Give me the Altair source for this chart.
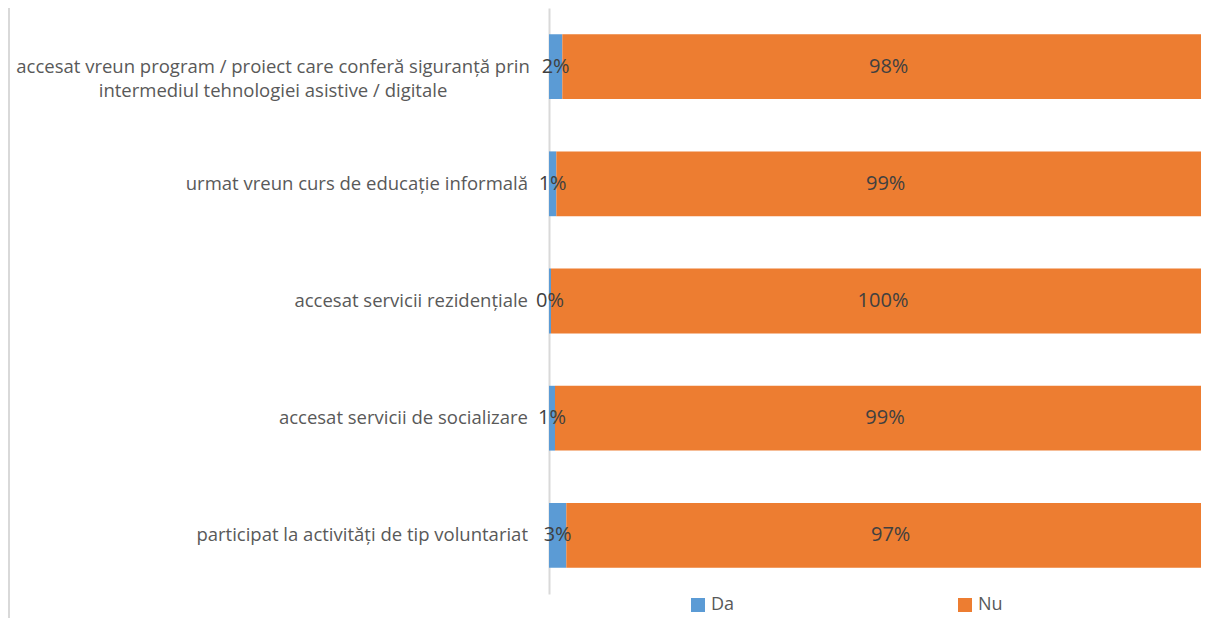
import altair as alt
import pandas as pd

categories = [
    "accesat vreun program / proiect care conferă siguranță prin intermediul tehnologiei asistive / digitale",
    "urmat vreun curs de educație informală",
    "accesat servicii rezidențiale",
    "accesat servicii de socializare",
    "participat la activități de tip voluntariat",
]
label_text = [
    "accesat vreun program / proiect care conferă siguranță prin\nintermediul tehnologiei asistive / digitale",
    "urmat vreun curs de educație informală",
    "accesat servicii rezidențiale",
    "accesat servicii de socializare",
    "participat la activități de tip voluntariat",
]
wrapped = [True, False, False, False, False]
series = ["Da", "Nu"]
da_values = [2.0, 1.1, 0.3, 0.9, 2.6]
nu_values = [98.0, 98.9, 99.7, 99.1, 97.4]
colors = ["#5B9BD5", "#ED7D31"]

rows = []
for i, c in enumerate(categories):
    rows.append({"cat": c, "series": series[0], "order": 0, "value": da_values[i]})
    rows.append({"cat": c, "series": series[1], "order": 1, "value": nu_values[i]})
df = pd.DataFrame(rows)
lab_df = pd.DataFrame({"cat": categories, "label": label_text, "wrap": wrapped})

y_scale = alt.Scale(paddingInner=0.447, paddingOuter=0.2235)
y_axis = alt.Axis(labels=False, ticks=False, title=None, domainColor="#d9d9d9",
                  domainWidth=2, grid=False)

base = alt.Chart(df).transform_stack(
    stack="value", groupby=["cat"], as_=["x0", "x1"],
    sort=[alt.SortField("order", order="ascending")]
).transform_calculate(
    mid="(datum.x0 + datum.x1) / 2",
    lbl="format(datum.value / 100, '.0%')"
)

bars = base.mark_bar(clip=True).encode(
    x=alt.X("x0:Q", scale=alt.Scale(domain=[0, 97.9], nice=False, zero=True), axis=None),
    x2="x1:Q",
    y=alt.Y("cat:N", sort=categories, scale=y_scale, axis=y_axis),
    color=alt.Color("series:N", scale=alt.Scale(domain=series, range=colors),
                    legend=alt.Legend(orient="none", legendX=140, legendY=588,
                                      direction="horizontal", title=None,
                                      symbolType="square", symbolSize=196,
                                      symbolStrokeWidth=0, labelFontSize=18,
                                      labelFont="Open Sans", labelColor="#595959",
                                      columnPadding=221, labelOffset=4, padding=0)),
)

values_text = base.mark_text(fontSize=20, font="Open Sans", color="#404040").encode(
    x=alt.X("mid:Q"),
    y=alt.Y("cat:N", sort=categories),
    text="lbl:N",
)

cat_right = alt.Chart(lab_df).transform_filter("!datum.wrap").mark_text(
    align="right", baseline="middle", fontSize=18.5, font="Open Sans", color="#595959"
).encode(x=alt.value(-21), y=alt.Y("cat:N", sort=categories), text="label:N")

cat_wrap = alt.Chart(lab_df).transform_filter("datum.wrap").mark_text(
    align="center", baseline="middle", fontSize=18.5, font="Open Sans", color="#595959",
    lineBreak="\n", lineHeight=24
).encode(x=alt.value(-276), y=alt.Y("cat:N", sort=categories), text="label:N")

border = alt.Chart(pd.DataFrame({"a": [0]})).mark_rule(color="#d9d9d9", strokeWidth=2).encode(
    x=alt.value(-540), y=alt.value(-8), y2=alt.value(620)
)

chart = alt.layer(border, bars, values_text, cat_right, cat_wrap).properties(
    width=652, height=586,
    padding={"left": 541, "top": 0, "right": 0, "bottom": 24},
    autosize=alt.AutoSizeParams(type="none"),
).configure_view(stroke=None)

chart.save("out.html", embed_options={"renderer": "svg", "actions": False})
